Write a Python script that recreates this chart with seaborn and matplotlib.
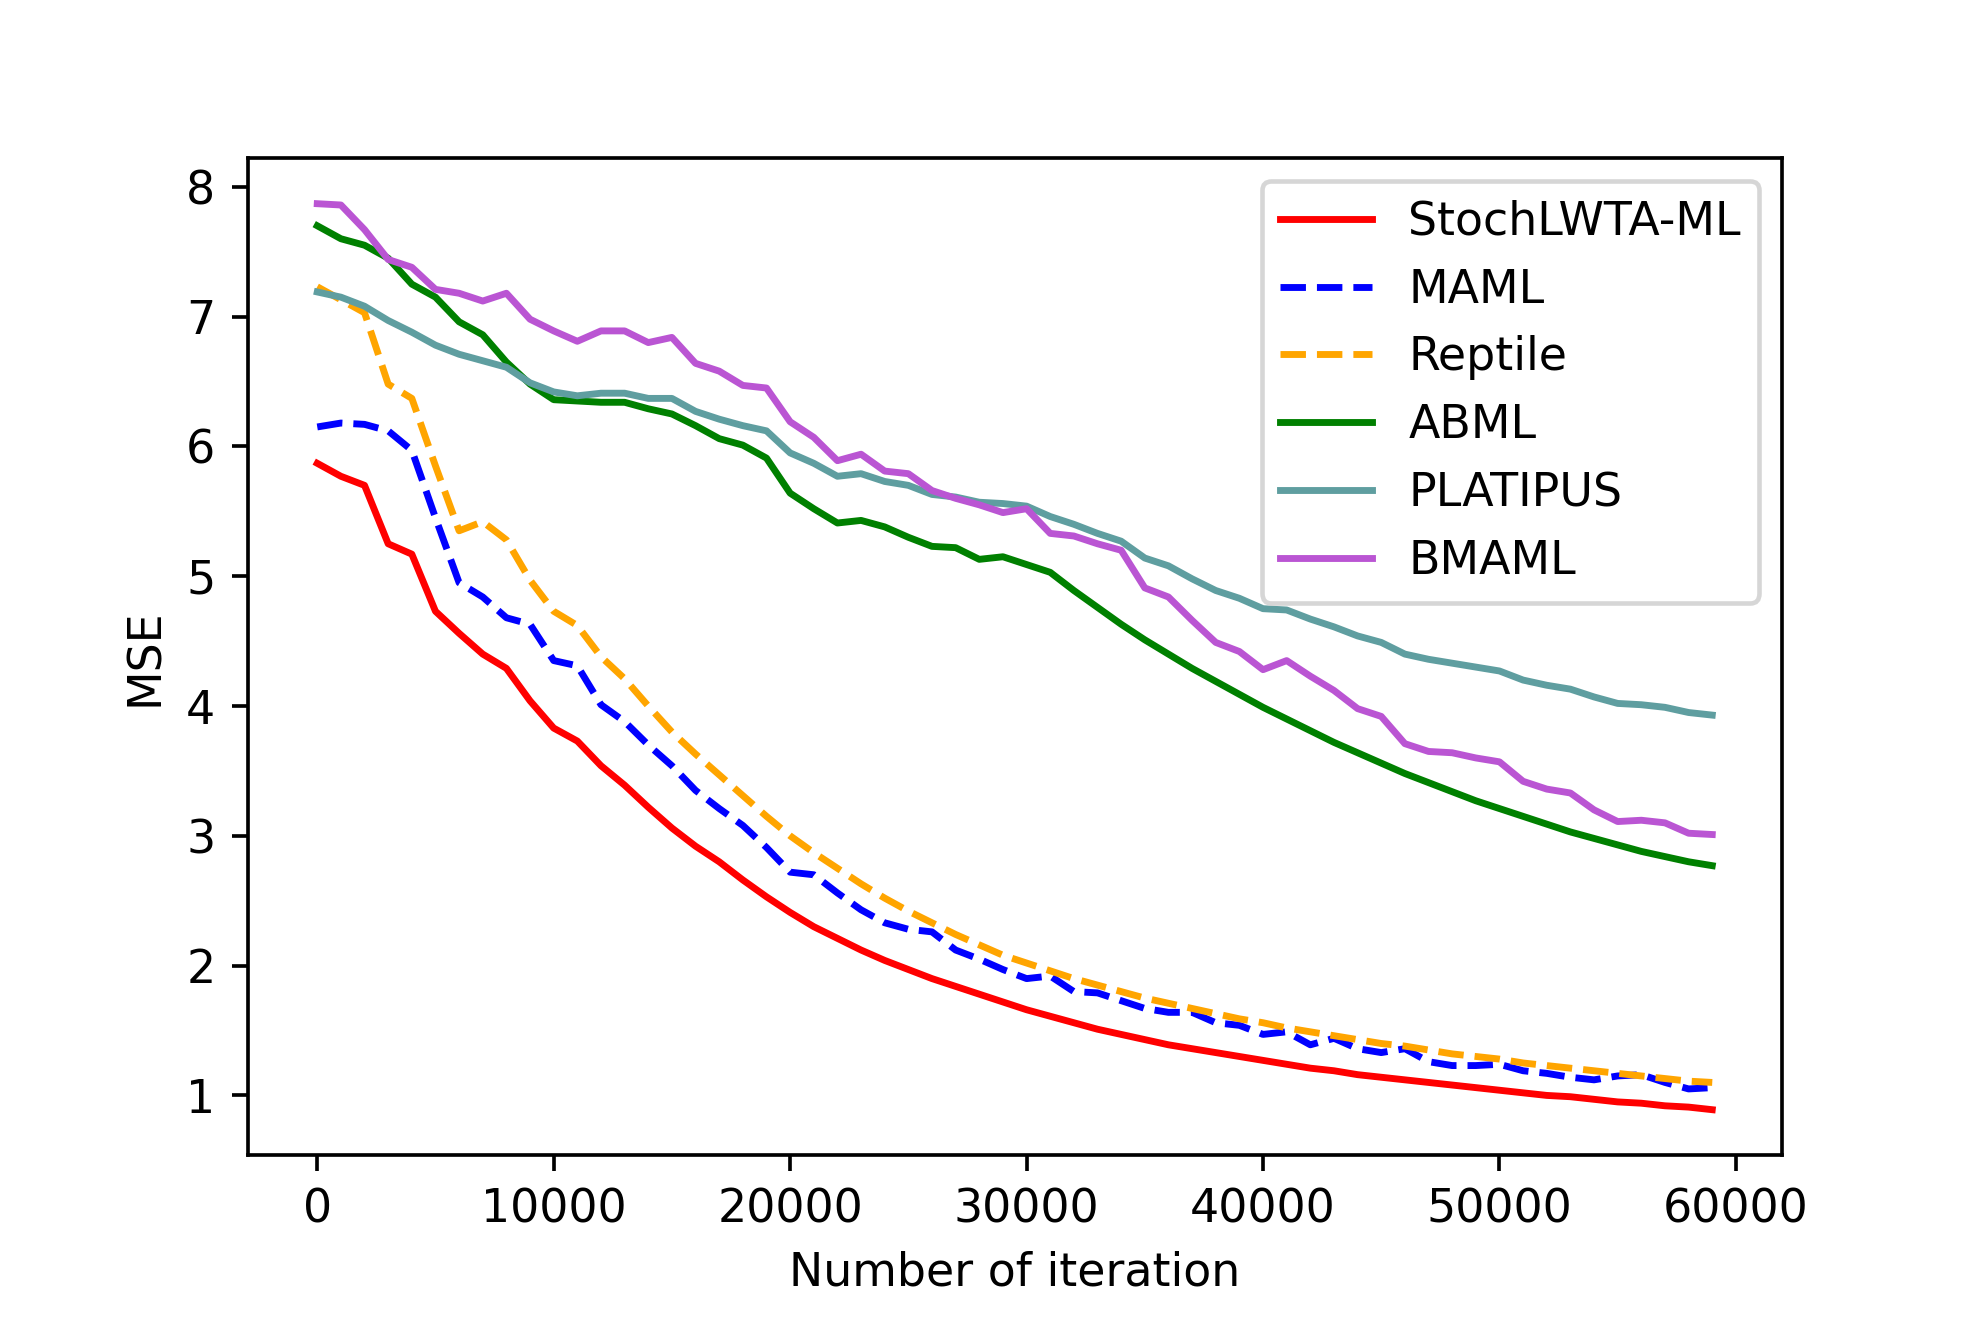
import numpy as np
import pandas as pd
import matplotlib
matplotlib.use('Agg')
import matplotlib.pyplot as plt
import seaborn as sns

# iterations sampled every 1000 steps
iterations = np.arange(0, 60000, 1000)

stochlwta = [5.87, 5.77, 5.70, 5.25, 5.17, 4.73, 4.56, 4.40, 4.29, 4.04,
             3.83, 3.73, 3.54, 3.39, 3.22, 3.06, 2.92, 2.80, 2.66, 2.53,
             2.41, 2.30, 2.21, 2.12, 2.04, 1.97, 1.90, 1.84, 1.78, 1.72,
             1.66, 1.61, 1.56, 1.51, 1.47, 1.43, 1.39, 1.36, 1.33, 1.30,
             1.27, 1.24, 1.21, 1.19, 1.16, 1.14, 1.12, 1.10, 1.08, 1.06,
             1.04, 1.02, 1.00, 0.99, 0.97, 0.95, 0.94, 0.92, 0.91, 0.89]

maml = [6.15, 6.18, 6.17, 6.12, 5.97, 5.45, 4.95, 4.84, 4.68, 4.63,
        4.35, 4.31, 4.01, 3.88, 3.70, 3.54, 3.35, 3.21, 3.08, 2.91,
        2.72, 2.70, 2.56, 2.43, 2.33, 2.28, 2.26, 2.12, 2.05, 1.97,
        1.90, 1.92, 1.80, 1.79, 1.73, 1.67, 1.64, 1.64, 1.56, 1.54,
        1.47, 1.49, 1.39, 1.44, 1.36, 1.33, 1.36, 1.26, 1.23, 1.23,
        1.24, 1.19, 1.17, 1.14, 1.12, 1.15, 1.16, 1.10, 1.05, 1.06]

reptile = [7.23, 7.13, 7.03, 6.48, 6.37, 5.85, 5.35, 5.42, 5.28, 4.97,
           4.73, 4.62, 4.38, 4.21, 4.00, 3.80, 3.63, 3.47, 3.31, 3.15,
           3.00, 2.87, 2.75, 2.63, 2.52, 2.42, 2.33, 2.24, 2.16, 2.08,
           2.02, 1.96, 1.90, 1.85, 1.80, 1.75, 1.71, 1.67, 1.63, 1.59,
           1.56, 1.52, 1.49, 1.46, 1.43, 1.40, 1.38, 1.35, 1.32, 1.30,
           1.28, 1.25, 1.23, 1.21, 1.19, 1.17, 1.15, 1.13, 1.11, 1.10]

abml = [7.70, 7.60, 7.55, 7.45, 7.25, 7.15, 6.96, 6.86, 6.65, 6.48,
        6.36, 6.35, 6.34, 6.34, 6.29, 6.25, 6.16, 6.06, 6.01, 5.91,
        5.64, 5.52, 5.41, 5.43, 5.38, 5.30, 5.23, 5.22, 5.13, 5.15,
        5.09, 5.03, 4.89, 4.76, 4.63, 4.51, 4.40, 4.29, 4.19, 4.09,
        3.99, 3.90, 3.81, 3.72, 3.64, 3.56, 3.48, 3.41, 3.34, 3.27,
        3.21, 3.15, 3.09, 3.03, 2.98, 2.93, 2.88, 2.84, 2.80, 2.77]

platipus = [7.19, 7.15, 7.08, 6.97, 6.88, 6.78, 6.71, 6.66, 6.61, 6.49,
            6.42, 6.39, 6.41, 6.41, 6.37, 6.37, 6.27, 6.21, 6.16, 6.12,
            5.95, 5.87, 5.77, 5.79, 5.73, 5.70, 5.63, 5.61, 5.57, 5.56,
            5.54, 5.46, 5.40, 5.33, 5.27, 5.14, 5.08, 4.98, 4.89, 4.83,
            4.75, 4.74, 4.67, 4.61, 4.54, 4.49, 4.40, 4.36, 4.33, 4.30,
            4.27, 4.20, 4.16, 4.13, 4.07, 4.02, 4.01, 3.99, 3.95, 3.93]

bmaml = [7.87, 7.86, 7.67, 7.44, 7.38, 7.21, 7.18, 7.12, 7.18, 6.98,
         6.89, 6.81, 6.89, 6.89, 6.80, 6.84, 6.64, 6.58, 6.47, 6.45,
         6.19, 6.07, 5.89, 5.94, 5.81, 5.79, 5.66, 5.60, 5.55, 5.49,
         5.52, 5.33, 5.31, 5.25, 5.20, 4.91, 4.84, 4.66, 4.49, 4.42,
         4.28, 4.35, 4.23, 4.12, 3.98, 3.92, 3.71, 3.65, 3.64, 3.60,
         3.57, 3.42, 3.36, 3.33, 3.20, 3.11, 3.12, 3.10, 3.02, 3.01]

methods = ['StochLWTA-ML', 'MAML', 'Reptile', 'ABML', 'PLATIPUS', 'BMAML']
series = [stochlwta, maml, reptile, abml, platipus, bmaml]
colors = ['red', 'blue', 'orange', 'green', 'cadetblue', 'mediumorchid']
styles = ['-', '--', '--', '-', '-', '-']

fig, ax = plt.subplots(figsize=(6, 4), dpi=330)
fig.subplots_adjust(bottom=0.125, top=0.88)

for name, vals, col, ls in zip(methods, series, colors, styles):
    sns.lineplot(x=iterations, y=vals, color=col, linestyle=ls,
                 linewidth=1.5, label=name, ax=ax)

ax.set_xlabel('Number of iteration')
ax.set_ylabel('MSE')
ax.legend(loc='upper right')

fig.savefig('out.png', dpi=330)
